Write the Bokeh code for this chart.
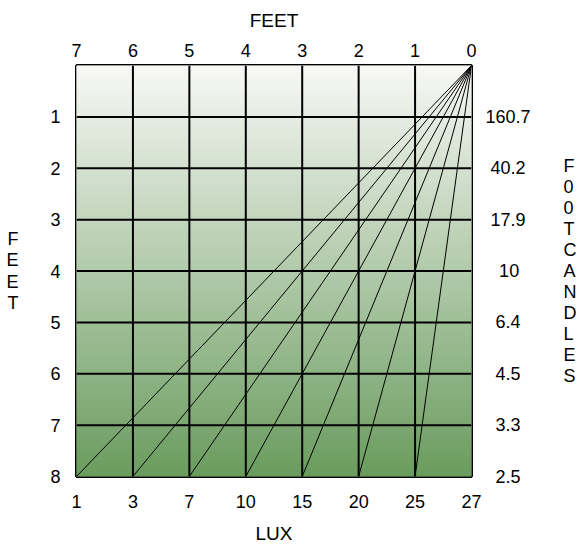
import numpy as np
from bokeh.plotting import figure
from bokeh.models import Range1d, FixedTicker, LinearAxis
from bokeh.embed import file_html
from bokeh.resources import INLINE

# ---- data ----
feet_top = [7, 6, 5, 4, 3, 2, 1, 0]            # horizontal distance (feet)
feet_rows = [1, 2, 3, 4, 5, 6, 7, 8]           # vertical distance (feet)
lux_labels = ["1", "3", "7", "10", "15", "20", "25", "27"]
footcandles = ["160.7", "40.2", "17.9", "10", "6.4", "4.5", "3.3", "2.5"]
ray_ends = [7, 6, 5, 4, 3, 2, 1]               # where each ray meets the 8 ft line
top_color = (248, 248, 246)
bottom_color = (106, 156, 94)

FONT = "Liberation Sans"
FS = "18px"
TFS = "19px"

p = figure(width=580, height=546,
           x_range=Range1d(7, 0), y_range=Range1d(8, 0),
           output_backend="svg", toolbar_location=None,
           x_axis_location=None, y_axis_location=None,
           min_border_left=76, min_border_top=65,
           min_border_right=109, min_border_bottom=65)
p.xgrid.visible = False
p.ygrid.visible = False
p.outline_line_color = "black"
p.outline_line_width = 3
p.background_fill_color = None

# ---- gradient background ----
n = 160
edges = np.linspace(0, 8, n + 1)
t = (edges[:-1] + edges[1:]) / 16.0
cols = []
for tt in t:
    c = [int(round(a + (b - a) * tt)) for a, b in zip(top_color, bottom_color)]
    cols.append("#%02x%02x%02x" % tuple(c))
p.quad(left=7, right=0, top=edges[:-1], bottom=edges[1:],
       fill_color=cols, line_color=cols, line_width=1)

# ---- grid ----
xmax = max(feet_top)
ymax = max(feet_rows)
inner_x = [v for v in feet_top if 0 < v < xmax]
inner_y = [v for v in feet_rows if v < ymax]
p.segment(x0=inner_x, y0=[0] * len(inner_x), x1=inner_x, y1=[ymax] * len(inner_x),
          line_color="black", line_width=2)
p.segment(x0=[0] * len(inner_y), y0=inner_y, x1=[xmax] * len(inner_y), y1=inner_y,
          line_color="black", line_width=2)

# ---- rays ----
p.segment(x0=[0] * len(ray_ends), y0=[0] * len(ray_ends), x1=ray_ends,
          y1=[ymax] * len(ray_ends), line_color="black", line_width=1)


def style(ax, standoff, label=None, label_standoff=0, orient=None, lh=1.2):
    ax.axis_line_color = None
    ax.major_tick_line_color = None
    ax.minor_tick_line_color = None
    ax.major_label_standoff = standoff
    ax.major_label_text_font = FONT
    ax.major_label_text_font_size = FS
    ax.major_label_text_color = "black"
    if label is not None:
        ax.axis_label = label
        ax.axis_label_standoff = label_standoff
        ax.axis_label_text_font = FONT
        ax.axis_label_text_font_size = TFS if orient is None else FS
        ax.axis_label_text_font_style = "normal"
        ax.axis_label_text_color = "black"
        ax.axis_label_text_line_height = lh
        if orient is not None:
            ax.axis_label_orientation = orient


def centered(labels):
    # left-pad each label so that the column of labels looks centred
    def units(s):
        return sum(1 if ch == "." else 2 for ch in s)
    widest = max(units(s) for s in labels)
    out = []
    for s in labels:
        half = (widest - units(s)) / 2.0
        full = int(half)
        pad = "\u2007" * (full // 2) + "\u2008" * (full % 2)
        if half - full >= 0.5:
            pad += "\u2009"
        out.append(pad + s)
    return out


top = LinearAxis(ticker=FixedTicker(ticks=feet_top))
style(top, 3, "FEET", 10)
p.add_layout(top, "above")

bottom = LinearAxis(ticker=FixedTicker(ticks=feet_top),
                    major_label_overrides={k: v for k, v in zip(feet_top, lux_labels)})
style(bottom, 12, "LUX", 12)
p.add_layout(bottom, "below")

left = LinearAxis(ticker=FixedTicker(ticks=feet_rows))
style(left, 10, "F\nE\nE\nT", 29, "horizontal", 1.08)
p.add_layout(left, "left")

right = LinearAxis(ticker=FixedTicker(ticks=feet_rows),
                   major_label_overrides={k: v for k, v in zip(feet_rows, centered(footcandles))})
style(right, 8, "F\n0\n0\nT\nC\nA\nN\nD\nL\nE\nS", 30, "horizontal", 1.05)
p.add_layout(right, "right")

open("out.html", "w").write(file_html(p, INLINE))
